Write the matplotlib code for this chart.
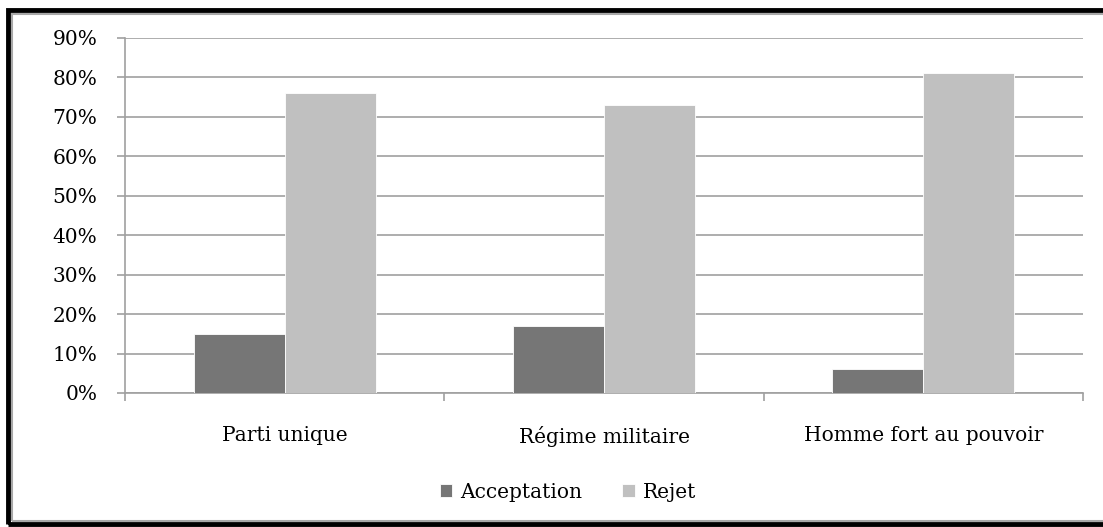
import numpy as np
import matplotlib
matplotlib.use('Agg')
import matplotlib.pyplot as plt
from matplotlib.patches import Rectangle
from matplotlib.ticker import PercentFormatter

categories = ['Parti unique', 'Régime militaire', 'Homme fort au pouvoir']
acceptation = [15, 17, 6]
rejet = [76, 73, 81]
yticks = [0, 10, 20, 30, 40, 50, 60, 70, 80, 90]

plt.rcParams['font.family'] = ['DejaVu Serif']

fig = plt.figure(figsize=(11.03, 5.27), dpi=100)
ax = fig.add_axes([0.1133, 0.2543, 0.8686, 0.6736])

x = np.arange(len(categories))
w = 0.285
ax.bar(x - w / 2, acceptation, w, color='#767676', edgecolor='white', linewidth=0.6,
       label='Acceptation', zorder=3)
ax.bar(x + w / 2, rejet, w, color='#c0c0c0', edgecolor='white', linewidth=0.6,
       label='Rejet', zorder=3)

ax.set_xlim(-0.5, len(categories) - 0.5)
ax.set_ylim(0, 90)
ax.set_yticks(yticks)
ax.yaxis.set_major_formatter(PercentFormatter(decimals=0))
ax.grid(axis='y', color='#a0a0a0', linewidth=1.2, zorder=0)

ax.set_xticks(x)
ax.set_xticklabels(categories)
ax.set_xticks(np.arange(-0.5, len(categories)), minor=True)
ax.tick_params(axis='x', which='major', length=0, pad=24, labelsize=14.5)
ax.tick_params(axis='x', which='minor', length=6, width=1.2, color='#a0a0a0')
ax.tick_params(axis='y', length=6, width=1.2, color='#a0a0a0', pad=14, labelsize=14.5)

for side in ['top', 'right']:
    ax.spines[side].set_visible(False)
for side in ['left', 'bottom']:
    ax.spines[side].set_color('#a0a0a0')
    ax.spines[side].set_linewidth(1.2)

ax.legend(loc='center', bbox_to_anchor=(0.515, 0.066), bbox_transform=fig.transFigure,
          ncol=2, frameon=False, fontsize=14.5, handlelength=0.6, handleheight=0.6,
          handletextpad=0.4, columnspacing=2.0)

# outer frame
fig.patches.append(Rectangle((8 / 1103, 3 / 527), 1.1, 1 - 13 / 527, transform=fig.transFigure,
                             fill=False, edgecolor='black', linewidth=3.5))
fig.patches.append(Rectangle((12 / 1103, 6 / 527), 1.1, 1 - 20 / 527, transform=fig.transFigure,
                             fill=False, edgecolor='#a8a8a8', linewidth=1.5))

fig.savefig('out.png', dpi=100)
